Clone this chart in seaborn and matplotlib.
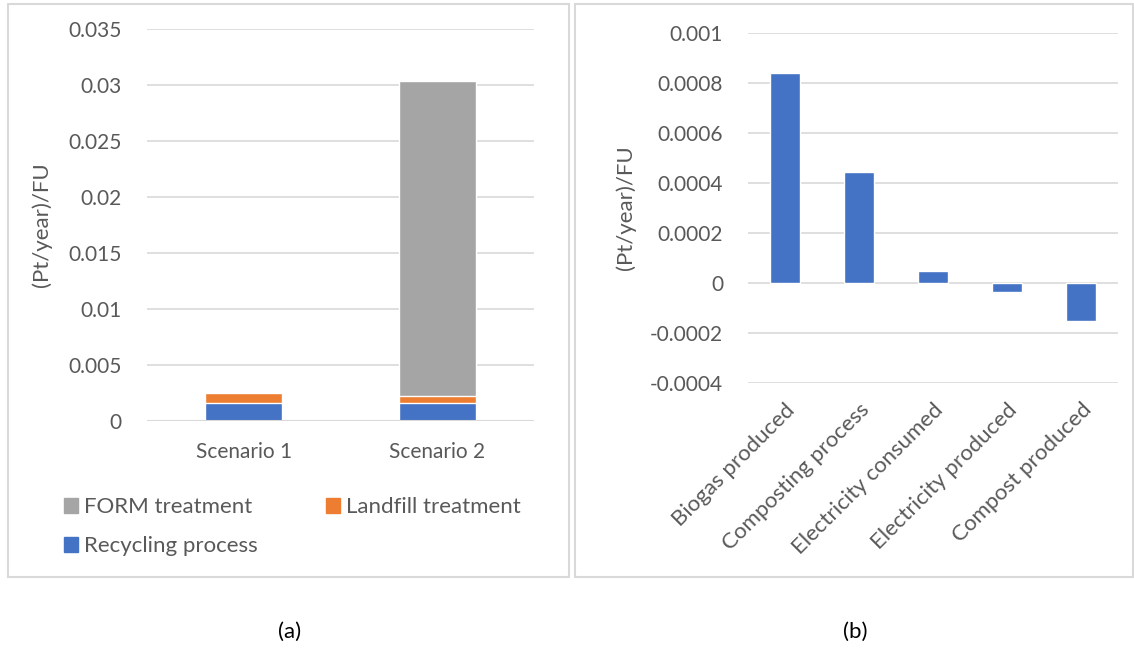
import matplotlib
matplotlib.use("Agg")
import matplotlib.pyplot as plt
import matplotlib.patches as mpatches
import numpy as np
import pandas as pd
import seaborn as sns

# ---- data -------------------------------------------------------------
scenarios = ["Scenario 1", "Scenario 2"]
recycling = [0.0016, 0.0016]
landfill = [0.00087, 0.0006]
form = [0.0, 0.0282]

processes = ["Biogas produced", "Composting process", "Electricity consumed",
             "Electricity produced", "Compost produced"]
process_values = [0.000838, 0.000444, 0.0000467, -0.000037, -0.000152]

yticks_a = [0, 0.005, 0.01, 0.015, 0.02, 0.025, 0.03, 0.035]
yticks_a_labels = ["0", "0.005", "0.01", "0.015", "0.02", "0.025", "0.03", "0.035"]
yticks_b = [-0.0004, -0.0002, 0, 0.0002, 0.0004, 0.0006, 0.0008, 0.001]
yticks_b_labels = ["-0.0004", "-0.0002", "0", "0.0002", "0.0004", "0.0006", "0.0008", "0.001"]

# ---- style ------------------------------------------------------------
sns.set_theme(style="white")
plt.rcParams["font.family"] = ["Lato", "DejaVu Sans"]
TXT = "#595959"
GRID = "#d9d9d9"
BLUE, ORANGE, GRAY = "#4472C4", "#ED7D31", "#A5A5A5"
FS_TICK = 15
FS_LAB = 16

W, H = 1134, 649
fig = plt.figure(figsize=(W / 100, H / 100), dpi=100)


def px_axes(x0, y0, x1, y1):
    return fig.add_axes([x0 / W, 1 - y1 / H, (x1 - x0) / W, (y1 - y0) / H])


# panel frames
for (x0, y0, x1, y1) in [(8, 4, 569, 577), (575, 4, 1133, 577)]:
    fig.patches.append(mpatches.Rectangle((x0 / W, 1 - y1 / H), (x1 - x0) / W, (y1 - y0) / H,
                                          transform=fig.transFigure, fill=False,
                                          edgecolor=GRID, linewidth=1.5))

# ---- panel (a): stacked bars ------------------------------------------
ax1 = px_axes(147, 29, 534, 421)
df_a = pd.DataFrame({"scenario": scenarios,
                     "recycling": recycling, "landfill": landfill, "form": form})
df_a["lvl2"] = df_a["recycling"] + df_a["landfill"]
df_a["lvl3"] = df_a["lvl2"] + df_a["form"]
for col, c in [("lvl3", GRAY), ("lvl2", ORANGE), ("recycling", BLUE)]:
    sns.barplot(data=df_a, x="scenario", y=col, color=c, width=0.4,
                saturation=1, ax=ax1, zorder=3)
ax1.set_ylim(0, 0.035)
ax1.set_xlim(-0.5, 1.5)
ax1.set_yticks(yticks_a, yticks_a_labels)
ax1.yaxis.grid(True, color=GRID, linewidth=1.2, zorder=0)
ax1.set_axisbelow(True)
for s in ax1.spines.values():
    s.set_visible(False)
ax1.axhline(0, color=GRID, linewidth=1.5, zorder=4)
ax1.tick_params(axis="both", length=0, labelsize=FS_TICK, labelcolor=TXT)
ax1.tick_params(axis="y", pad=18)
ax1.tick_params(axis="x", pad=15)
ax1.set_xlabel("")
ax1.set_ylabel("(Pt/year)/FU", fontsize=FS_LAB, color=TXT, labelpad=12)

handles = [mpatches.Patch(color=GRAY, label="FORM treatment"),
           mpatches.Patch(color=BLUE, label="Recycling process"),
           mpatches.Patch(color=ORANGE, label="Landfill treatment")]
fig.legend(handles=handles, ncol=2, loc="upper left",
           bbox_to_anchor=(44 / W, 1 - 477 / H), frameon=False,
           fontsize=FS_LAB, labelcolor=TXT, handlelength=0.65, handleheight=0.65,
           handletextpad=0.25, columnspacing=3.07, labelspacing=0.86)

# ---- panel (b): process contributions ---------------------------------
ax2 = px_axes(748, 33, 1118, 383)
df_b = pd.DataFrame({"process": processes, "value": process_values})
sns.barplot(data=df_b, x="process", y="value", color=BLUE, width=0.4,
            saturation=1, ax=ax2, zorder=3)
ax2.set_ylim(-0.0004, 0.001)
ax2.set_xlim(-0.5, 4.5)
ax2.set_yticks(yticks_b, yticks_b_labels)
ax2.yaxis.grid(True, color=GRID, linewidth=1.2, zorder=0)
ax2.set_axisbelow(True)
for s in ax2.spines.values():
    s.set_visible(False)
ax2.tick_params(axis="both", length=0, labelsize=FS_TICK, labelcolor=TXT)
ax2.tick_params(axis="y", pad=18)
ax2.tick_params(axis="x", pad=12, labelsize=16)
plt.setp(ax2.get_xticklabels(), rotation=45, ha="right", rotation_mode="anchor")
ax2.set_xlabel("")
ax2.set_ylabel("(Pt/year)/FU", fontsize=FS_LAB, color=TXT, labelpad=10)

# captions
fig.text(290 / W, 1 - 632 / H, "(a)", ha="center", va="center", fontsize=FS_LAB, color="black")
fig.text(855 / W, 1 - 632 / H, "(b)", ha="center", va="center", fontsize=FS_LAB, color="black")

fig.savefig("out.png", dpi=100)
